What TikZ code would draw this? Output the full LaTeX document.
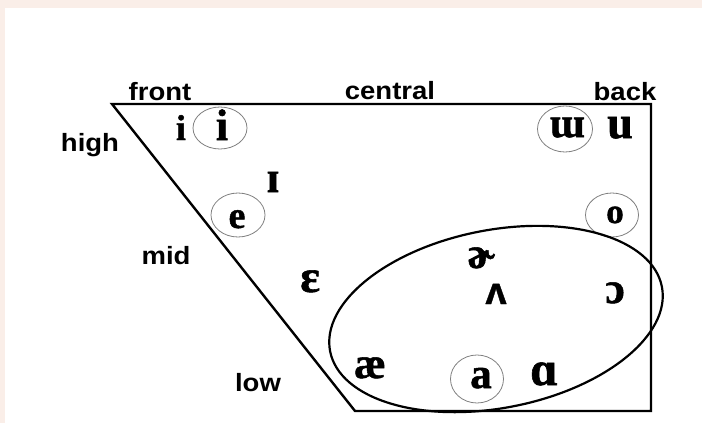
\documentclass[tikz,border=0pt]{standalone}
\usepackage{fontspec}
\setmainfont{Liberation Serif}
\newfontfamily\labelfont{Liberation Sans}[FakeStretch=1.1]
\newfontfamily\ipafont{Liberation Serif}[FakeBold=1.2]
\newfontfamily\ipasans{Liberation Sans}[FakeBold=1.0]
\usetikzlibrary{shapes.geometric}
\definecolor{bgpink}{RGB}{250,238,232}
\definecolor{ringgray}{RGB}{128,128,128}
\tikzset{
  lbl/.style={font=\labelfont\bfseries\fontsize{25}{25}\selectfont, anchor=base, inner sep=0pt},
  ipa/.style={font=\ipafont\bfseries\fontsize{#1}{#1}\selectfont, anchor=base, inner sep=0pt},
  ipas/.style={font=\ipasans\bfseries\fontsize{#1}{#1}\selectfont, anchor=base, inner sep=0pt},
  ring/.style={draw=ringgray, line width=0.8pt, ellipse, inner sep=0pt},
  chartline/.style={line width=2.4pt, line join=miter},
  bigring/.style={draw, line width=2.2pt, ellipse, inner sep=0pt}
}
\begin{document}
\begin{tikzpicture}[x=1pt,y=-1pt]
\fill[bgpink] (0,0) rectangle (702,423);
\fill[white] (5,8) rectangle (702,423);
\useasboundingbox (0,0) rectangle (702,423);
% chart outline
\coordinate (tl) at (112,104);
\coordinate (tr) at (651,104);
\coordinate (br) at (651,411);
\coordinate (bl) at (355,411);
\draw[chartline] (tl) -- (tr) -- (br) -- (bl) -- cycle;
% labels
\node[lbl] (front) at (160,100) {front};
\node[lbl] (central) at (390,99) {central};
\node[lbl] (back) at (625,100) {back};
\node[lbl] (high) at (90,151) {high};
\node[lbl] (mid) at (166,264) {mid};
\node[lbl] (low) at (258,391) {low};
% rings
\node[ring, minimum width=54pt, minimum height=42pt] (ri) at (220,128) {};
\node[ring, minimum width=54pt, minimum height=44pt] (re) at (238,215) {};
\node[ring, minimum width=55pt, minimum height=46pt] (rw) at (565,129) {};
\node[ring, minimum width=53pt, minimum height=44pt] (ro) at (612,215) {};
\node[ring, minimum width=53pt, minimum height=48pt] (ra) at (477,379) {};
% big ellipse
\node[bigring, minimum width=338pt, minimum height=178pt, rotate=11] (big) at (496,319) {};
% vowels
\node[ipa=36] (i1) at (181,140) {i};
\node[ipa=44] (i2) at (222,140) {i};
\node[ipa=44] (ih) at (273,192) {ɪ};
\node[ipa=38] (e) at (237,228) {e};
\node[ipa=46] (eh) at (310,292) {ɛ};
\node[ipa=44] (er) at (481,268) {ɚ};
\node[ipas=38] (uh) at (496,304) {ʌ};
\node[ipa=44] (oh) at (615,303) {ɔ};
\node[ipa=44] (ae) at (370,378) {æ};
\node[ipa=43] (a) at (481,388) {a};
\node[ipa=48] (aa) at (544,385) {ɑ};
\node[ipa=42] (uu) at (567,137) {ɯ};
\node[ipa=46] (u) at (620,138) {u};
\node[ipa=35] (o) at (615,223) {o};
\end{tikzpicture}
\end{document}
